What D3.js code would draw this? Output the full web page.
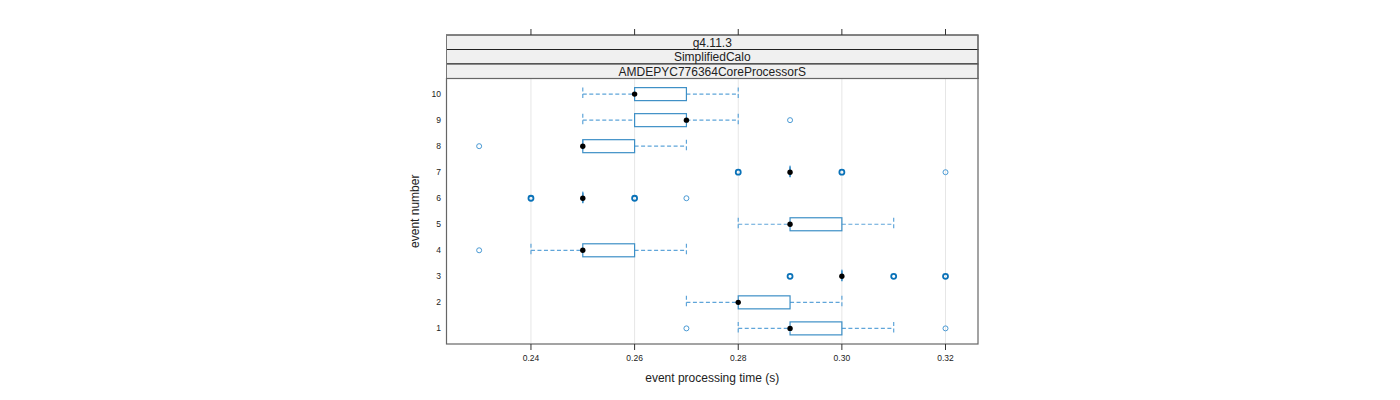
<!DOCTYPE html>
<html><head><meta charset="utf-8">
<script src="https://cdn.jsdelivr.net/npm/d3@7"></script>
<style>body{margin:0;background:#fff}svg{display:block;font-family:"Liberation Sans",Arial,sans-serif}</style>
</head><body><svg id="c" width="1400" height="400"></svg>
<script>
const events = [1,2,3,4,5,6,7,8,9,10];
const q1 =      [0.29,0.28,0.30,0.25,0.29,0.25,0.29,0.25,0.26,0.26];
const medians = [0.29,0.28,0.30,0.25,0.29,0.25,0.29,0.25,0.27,0.26];
const q3 =      [0.30,0.29,0.30,0.26,0.30,0.25,0.29,0.26,0.27,0.27];
const wlo =     [0.28,0.27,0.30,0.24,0.28,0.25,0.29,0.25,0.25,0.25];
const whi =     [0.31,0.30,0.30,0.27,0.31,0.25,0.29,0.27,0.28,0.28];
// outliers: [event, value, count]
const outliers = [
  [1,0.27,1],[1,0.32,1],
  [3,0.29,3],[3,0.31,3],[3,0.32,3],
  [4,0.23,1],
  [6,0.24,3],[6,0.26,3],[6,0.27,1],
  [7,0.28,3],[7,0.30,3],[7,0.32,1],
  [8,0.23,1],
  [9,0.29,1]
];
const xTicks = [0.24,0.26,0.28,0.30,0.32];
const strips = ["g4.11.3","SimplifiedCalo","AMDEPYC776364CoreProcessorS"];

const svg = d3.select("#c");
const L=446.5, R=978, T=35, stripH=14.5, PT=T+stripH*3, PB=344;
const x = d3.scaleLinear().domain([0.2237,0.32627]).range([L,R]);
const y = d3.scaleLinear().domain([0.4,10.6]).range([PB,PT]);

// gridlines
svg.append("g").selectAll("line").data(xTicks).join("line")
  .attr("x1",d=>x(d)).attr("x2",d=>x(d)).attr("y1",PT).attr("y2",PB)
  .attr("stroke","#e6e6e6").attr("stroke-width",1);

// strips
strips.forEach((s,i)=>{
  const yy=T+i*stripH;
  svg.append("rect").attr("x",L).attr("y",yy).attr("width",R-L).attr("height",stripH)
    .attr("fill","#f0f0f0").attr("stroke","#222").attr("stroke-width",1);
  svg.append("text").attr("x",(L+R)/2).attr("y",yy+stripH/2+4.3).attr("text-anchor","middle")
    .attr("font-size",12).attr("fill","#222").text(s);
});
svg.append("rect").attr("x",L).attr("y",T).attr("width",R-L).attr("height",stripH*3)
  .attr("fill","none").attr("stroke","#777").attr("stroke-width",1);

const bh = 13, cap = 6.5;
const g = svg.append("g");
const wcol = "#5fa5d9", bcol = "#3d8fc6";
events.forEach((e,i)=>{
  const cy = y(e);
  // whiskers
  [[wlo[i],q1[i]],[q3[i],whi[i]]].forEach(([a,b])=>{
    if (b>a) g.append("line").attr("x1",x(a)).attr("x2",x(b)).attr("y1",cy).attr("y2",cy)
      .attr("stroke",wcol).attr("stroke-width",1.2).attr("stroke-dasharray","4,2.5");
  });
  [wlo[i],whi[i]].forEach(v=>{
    g.append("line").attr("x1",x(v)).attr("x2",x(v)).attr("y1",cy-cap).attr("y2",cy+cap)
      .attr("stroke",wcol).attr("stroke-width",1.2).attr("stroke-dasharray","4,2.5");
  });
  // box
  g.append("rect").attr("x",x(q1[i])).attr("y",cy-bh/2).attr("width",x(q3[i])-x(q1[i])).attr("height",bh)
    .attr("fill","none").attr("stroke",bcol).attr("stroke-width",1.2);
  if (q3[i]===q1[i]) g.append("line").attr("x1",x(q1[i])).attr("x2",x(q1[i])).attr("y1",cy-5).attr("y2",cy+5)
    .attr("stroke","#3d8fc6").attr("stroke-width",1.6);
});
// outliers
outliers.forEach(([e,v,n])=>{
  g.append("circle").attr("cx",x(v)).attr("cy",y(e)).attr("r",2.5).attr("fill","none")
    .attr("stroke", n>1 ? "#0a72b8" : "#4a9ad4").attr("stroke-width", n>1 ? 1.8 : 1);
});
// medians
events.forEach((e,i)=>{
  g.append("circle").attr("cx",x(medians[i])).attr("cy",y(e)).attr("r",2.7).attr("fill","#000");
});

// panel border
svg.append("rect").attr("x",L).attr("y",PT).attr("width",R-L).attr("height",PB-PT)
  .attr("fill","none").attr("stroke","#666").attr("stroke-width",1.2);

// ticks
const tg = svg.append("g").attr("stroke","#333");
xTicks.forEach(t=>{
  tg.append("line").attr("x1",x(t)).attr("x2",x(t)).attr("y1",PB).attr("y2",PB+6);
  tg.append("line").attr("x1",x(t)).attr("x2",x(t)).attr("y1",T).attr("y2",T-6);
});
svg.append("g").selectAll("text").data(xTicks).join("text")
  .attr("x",d=>x(d)).attr("y",PB+17).attr("text-anchor","middle").attr("font-size",8.5).attr("fill","#222")
  .text(d=>d.toFixed(2));
svg.append("g").selectAll("text").data(events).join("text")
  .attr("x",441).attr("y",d=>y(d)+3).attr("text-anchor","end").attr("font-size",8.5).attr("fill","#222")
  .text(d=>d);

svg.append("text").attr("x",(L+R)/2).attr("y",382).attr("text-anchor","middle").attr("font-size",12).attr("fill","#222")
  .text("event processing time (s)");
svg.append("text").attr("transform",`translate(419,${(PT+PB)/2}) rotate(-90)`).attr("text-anchor","middle")
  .attr("font-size",12).attr("fill","#222").text("event number");
</script></body></html>
